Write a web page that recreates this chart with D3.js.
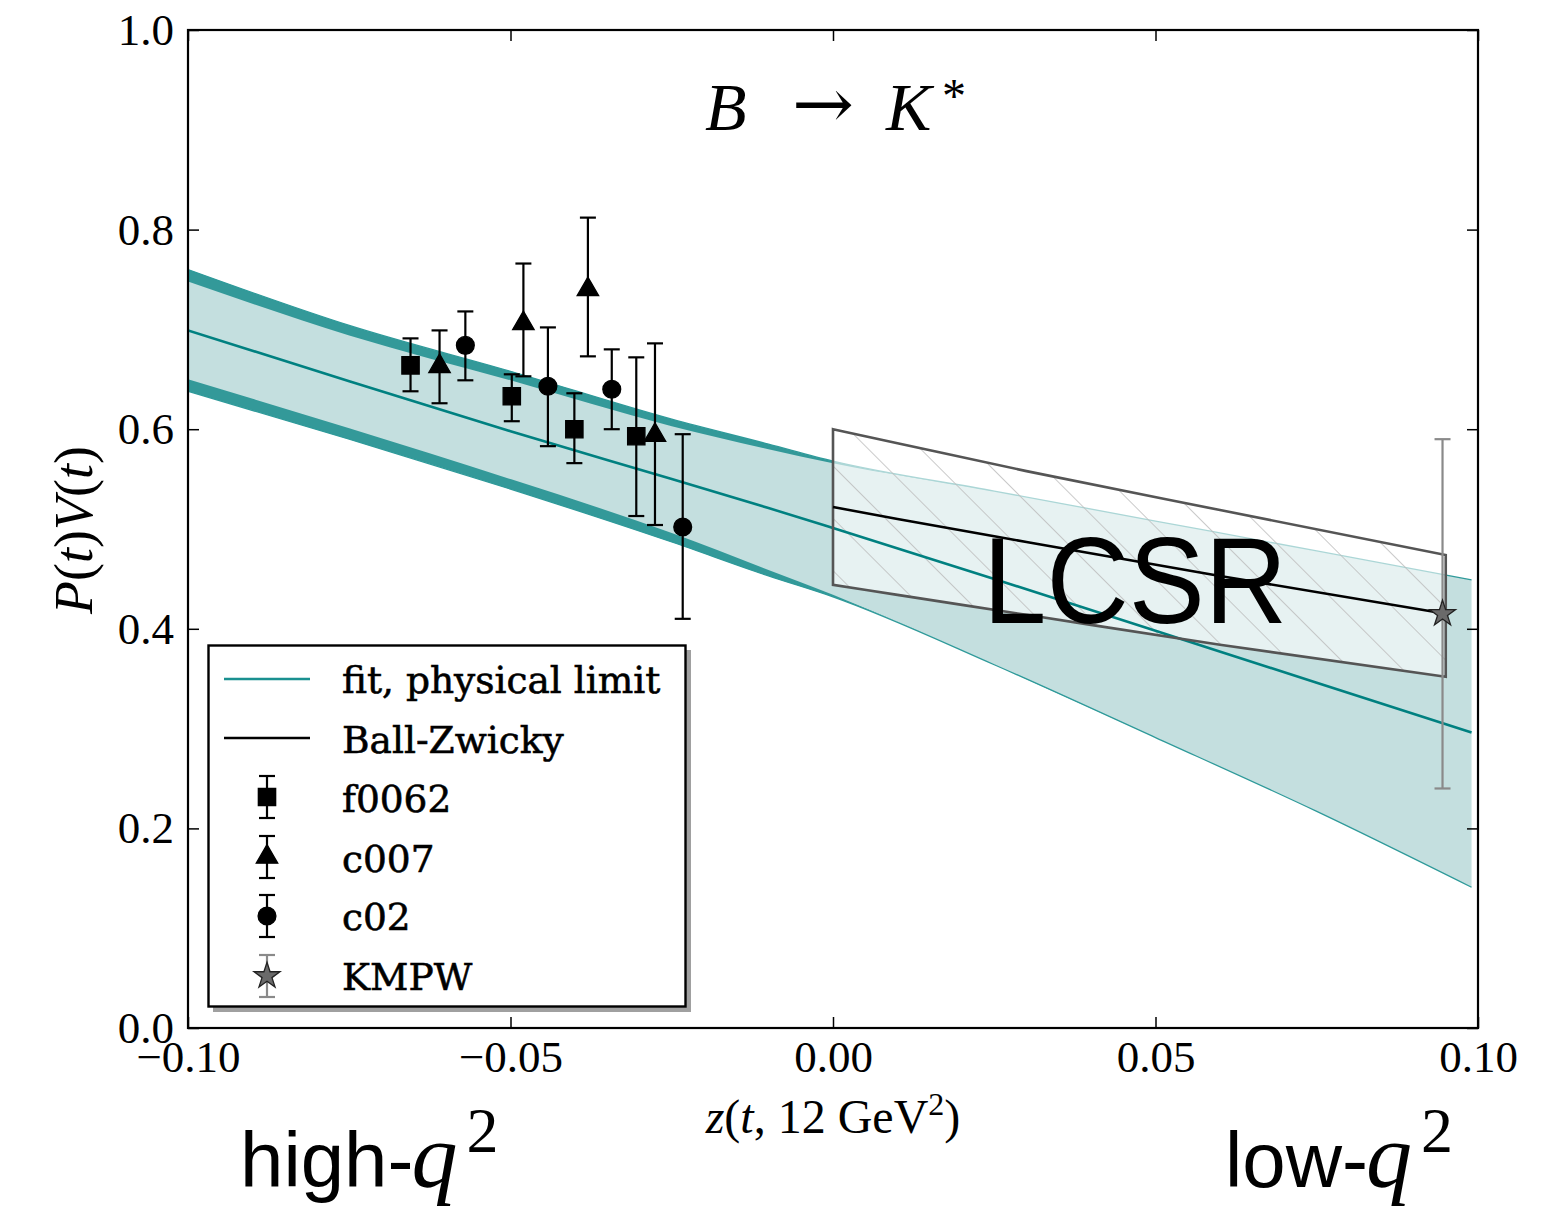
<!DOCTYPE html>
<html><head><meta charset="utf-8">
<script src="https://cdn.jsdelivr.net/npm/d3@7"></script>
<style>body{margin:0;background:#fff}</style>
</head><body>
<svg id="chart" width="1567" height="1208" xmlns="http://www.w3.org/2000/svg"></svg>
<script>
// ---------- data ----------
const xTickValues = [-0.10, -0.05, 0.00, 0.05, 0.10];
const xTickLabels = ["\u22120.10", "\u22120.05", "0.00", "0.05", "0.10"];
const yTickValues = [0.0, 0.2, 0.4, 0.6, 0.8, 1.0];
const yTickLabels = ["0.0", "0.2", "0.4", "0.6", "0.8", "1.0"];

// fit band (physical limit)
const bandZ          = [-0.100, -0.075, -0.050, -0.025, -0.010, 0.000, 0.025, 0.050, 0.075, 0.099];
const bandUpperOuter = [ 0.760,  0.704,  0.658,  0.610,  0.585, 0.568, 0.538, 0.508, 0.478, 0.449];
const bandUpperInner = [ 0.748,  0.694,  0.649,  0.603,  0.580, 0.566, 0.538, 0.508, 0.478, 0.449];
const bandLowerInner = [ 0.650,  0.601,  0.550,  0.496,  0.459, 0.434, 0.364, 0.291, 0.217, 0.141];
const bandLowerOuter = [ 0.638,  0.590,  0.540,  0.487,  0.453, 0.432, 0.364, 0.291, 0.217, 0.141];
const fitCentral     = [ 0.699,  0.648,  0.598,  0.550,  0.521, 0.501, 0.450, 0.398, 0.346, 0.296];

// Ball-Zwicky LCSR box
const bzZ       = [0.000, 0.010, 0.030, 0.060, 0.095];
const bzUpper   = [0.600, 0.586, 0.558, 0.519, 0.474];
const bzCentral = [0.522, 0.510, 0.487, 0.453, 0.415];
const bzLower   = [0.444, 0.434, 0.414, 0.384, 0.352];

// lattice points
const f0062Z  = [-0.0655, -0.0498, -0.0401, -0.0305];
const f0062V  = [ 0.664,   0.633,   0.600,   0.593];
const f0062Lo = [ 0.638,   0.608,   0.566,   0.513];
const f0062Hi = [ 0.691,   0.655,   0.636,   0.672];

const c007Z  = [-0.0610, -0.0480, -0.0380, -0.0276];
const c007V  = [ 0.663,   0.706,   0.740,   0.594];
const c007Lo = [ 0.626,   0.653,   0.673,   0.504];
const c007Hi = [ 0.699,   0.766,   0.812,   0.686];

const c02Z  = [-0.0570, -0.0442, -0.0343, -0.0233];
const c02V  = [ 0.684,   0.643,   0.640,   0.502];
const c02Lo = [ 0.649,   0.583,   0.600,   0.410];
const c02Hi = [ 0.718,   0.702,   0.680,   0.595];

const kmpwZ  = [0.0945];
const kmpwV  = [0.415];
const kmpwLo = [0.240];
const kmpwHi = [0.590];

const legendLabels = ["fit, physical limit", "Ball-Zwicky", "f0062", "c007", "c02", "KMPW"];

// ---------- drawing ----------
const svg = d3.select("#chart");
const L = 188, R = 1478, T = 30, B = 1028;
const x = d3.scaleLinear().domain([-0.1, 0.1]).range([L, R]);
const y = d3.scaleLinear().domain([0, 1]).range([B, T]);

const defs = svg.append("defs");
defs.append("clipPath").attr("id", "plotclip")
  .append("rect").attr("x", L).attr("y", T).attr("width", R - L).attr("height", B - T);
const pat = defs.append("pattern").attr("id", "hatch").attr("patternUnits", "userSpaceOnUse")
  .attr("width", 37).attr("height", 37).attr("patternTransform", "rotate(-45)");
pat.append("line").attr("x1", 0).attr("y1", 0).attr("x2", 0).attr("y2", 37)
  .attr("stroke", "#bdbdbd").attr("stroke-width", 1.6);

const plot = svg.append("g").attr("clip-path", "url(#plotclip)");

const idx = bandZ.map((d, i) => i);
const bandArea = (top, bot) => d3.area().curve(d3.curveMonotoneX)
  .x(i => x(bandZ[i])).y0(i => y(bot[i])).y1(i => y(top[i]));
const bandLine = arr => d3.line().curve(d3.curveMonotoneX).x(i => x(bandZ[i])).y(i => y(arr[i]));

plot.append("path").attr("d", bandArea(bandUpperOuter, bandLowerOuter)(idx)).attr("fill", "#c4dfdf");
plot.append("path").attr("d", bandArea(bandUpperOuter, bandUpperInner)(idx)).attr("fill", "#339999");
plot.append("path").attr("d", bandArea(bandLowerInner, bandLowerOuter)(idx)).attr("fill", "#339999");
plot.append("path").attr("d", bandLine(bandUpperOuter)(idx)).attr("fill", "none").attr("stroke", "#2f9a9a").attr("stroke-width", 1.3);
plot.append("path").attr("d", bandLine(bandLowerOuter)(idx)).attr("fill", "none").attr("stroke", "#2f9a9a").attr("stroke-width", 1.3);

// LCSR box
const bidx = bzZ.map((d, i) => i);
const boxArea = d3.area().curve(d3.curveMonotoneX)
  .x(i => x(bzZ[i])).y0(i => y(bzLower[i])).y1(i => y(bzUpper[i]));
plot.append("path").attr("d", boxArea(bidx)).attr("fill", "#ffffff").attr("fill-opacity", 0.6);
plot.append("path").attr("d", boxArea(bidx)).attr("fill", "url(#hatch)");

// central fit line
plot.append("path").attr("d", bandLine(fitCentral)(idx)).attr("fill", "none")
  .attr("stroke", "#008080").attr("stroke-width", 2.6);

// box outline
plot.append("path").attr("d", boxArea(bidx) + "Z").attr("fill", "none")
  .attr("stroke", "#555555").attr("stroke-width", 2.6).attr("stroke-linejoin", "miter");
// BZ central line
plot.append("path").attr("d", d3.line().curve(d3.curveMonotoneX).x(i => x(bzZ[i])).y(i => y(bzCentral[i]))(bidx))
  .attr("fill", "none").attr("stroke", "#000").attr("stroke-width", 2.6);

// error-bar series
function drawSeries(g, zs, vs, lo, hi, symType, size, fill, stroke, barColor) {
  zs.forEach((z, i) => {
    const cx = x(z);
    g.append("line").attr("x1", cx).attr("x2", cx).attr("y1", y(lo[i])).attr("y2", y(hi[i]))
      .attr("stroke", barColor).attr("stroke-width", 2.2);
    [lo[i], hi[i]].forEach(v => g.append("line").attr("x1", cx - 8).attr("x2", cx + 8)
      .attr("y1", y(v)).attr("y2", y(v)).attr("stroke", barColor).attr("stroke-width", 2.2));
    g.append("path").attr("d", d3.symbol().type(symType).size(size)())
      .attr("transform", `translate(${cx},${y(vs[i])})`)
      .attr("fill", fill).attr("stroke", stroke).attr("stroke-width", 1.3);
  });
}
drawSeries(plot, f0062Z, f0062V, f0062Lo, f0062Hi, d3.symbolSquare, 300, "#000", "#000", "#000");
drawSeries(plot, c007Z, c007V, c007Lo, c007Hi, d3.symbolTriangle, 200, "#000", "#000", "#000");
drawSeries(plot, c02Z, c02V, c02Lo, c02Hi, d3.symbolCircle, 250, "#000", "#000", "#000");
drawSeries(plot, kmpwZ, kmpwV, kmpwLo, kmpwHi, d3.symbolStar, 210, "#6a6a6a", "#222", "#8a8a8a");

// LCSR label
svg.append("text").attr("x", 983).attr("y", 623).text("LCSR")
  .attr("font-family", "Liberation Sans, Arial, sans-serif").attr("font-size", 122)
  .attr("textLength", 304).attr("lengthAdjust", "spacingAndGlyphs").attr("fill", "#000");

// ---------- axes ----------
const tickFont = "Liberation Serif, Times New Roman, serif";
const gl = svg.append("g").attr("transform", `translate(${L},0)`)
  .call(d3.axisLeft(y).tickValues(yTickValues).tickFormat((d, i) => yTickLabels[i]).tickSize(-11).tickPadding(14));
const gb = svg.append("g").attr("transform", `translate(0,${B})`)
  .call(d3.axisBottom(x).tickValues(xTickValues).tickFormat((d, i) => xTickLabels[i]).tickSize(-11).tickPadding(12));
const gr = svg.append("g").attr("transform", `translate(${R},0)`)
  .call(d3.axisRight(y).tickValues(yTickValues).tickFormat("").tickSize(-11));
const gt = svg.append("g").attr("transform", `translate(0,${T})`)
  .call(d3.axisTop(x).tickValues(xTickValues).tickFormat("").tickSize(-11));
[gl, gb, gr, gt].forEach(g => {
  g.select(".domain").remove();
  g.selectAll(".tick line").attr("stroke", "#000").attr("stroke-width", 1.5);
  g.selectAll("text").attr("font-family", tickFont).attr("font-size", 45).attr("fill", "#000");
});
svg.append("rect").attr("x", L).attr("y", T).attr("width", R - L).attr("height", B - T)
  .attr("fill", "none").attr("stroke", "#000").attr("stroke-width", 2.2);

// axis labels
const xl = svg.append("text").attr("x", 833).attr("y", 1133).attr("text-anchor", "middle")
  .attr("font-family", tickFont).attr("font-size", 48);
xl.append("tspan").attr("font-style", "italic").text("z");
xl.append("tspan").text("(");
xl.append("tspan").attr("font-style", "italic").text("t");
xl.append("tspan").text(", 12 GeV");
xl.append("tspan").attr("font-size", 32).attr("dy", -18).text("2");
xl.append("tspan").attr("dy", 18).text(")");

const yl = svg.append("text").attr("transform", "translate(92,530) rotate(-90)").attr("text-anchor", "middle")
  .attr("font-family", tickFont).attr("font-size", 54);
[["P", 1], ["(", 0], ["t", 1], [")", 0], ["V", 1], ["(", 0], ["t", 1], [")", 0]].forEach(([s, it]) =>
  yl.append("tspan").attr("font-style", it ? "italic" : "normal").text(s));

// title
const title = svg.append("g").attr("font-family", tickFont).attr("fill", "#000");
title.append("text").attr("x", 705).attr("y", 130).attr("font-size", 68).attr("font-style", "italic").text("B");
title.append("text").attr("x", 792).attr("y", 128).attr("font-size", 70).attr("font-family", "DejaVu Serif, serif")
  .attr("textLength", 62).attr("lengthAdjust", "spacingAndGlyphs").text("\u2192");
title.append("text").attr("x", 886).attr("y", 130).attr("font-size", 68).attr("font-style", "italic").text("K");
title.append("text").attr("x", 942).attr("y", 112).attr("font-size", 48).text("*");

// high-q2 / low-q2
function qLabel(x0, word) {
  const g = svg.append("g");
  const t = g.append("text").attr("x", x0).attr("y", 1187).attr("font-family", "Liberation Sans, Arial, sans-serif")
    .attr("font-size", 78).text(word);
  const w = t.node().getComputedTextLength();
  g.append("text").attr("x", x0 + w - 2).attr("y", 1187).attr("font-family", tickFont).attr("font-style", "italic")
    .attr("font-size", 92).text("q");
  g.append("text").attr("x", x0 + w + 53).attr("y", 1152).attr("font-family", tickFont)
    .attr("font-size", 64).text("2");
}
qLabel(240, "high-");
qLabel(1225, "low-");

// ---------- legend ----------
const lg = svg.append("g");
lg.append("rect").attr("x", 213).attr("y", 650).attr("width", 478).attr("height", 362).attr("fill", "#a0a0a0");
lg.append("rect").attr("x", 208.5).attr("y", 645.5).attr("width", 477).attr("height", 361)
  .attr("fill", "#fff").attr("stroke", "#000").attr("stroke-width", 2.4);
const legRows = [679, 738, 797, 857, 916, 976];
const legText = [693, 753, 812, 872, 930, 990];
lg.append("line").attr("x1", 224).attr("x2", 310).attr("y1", legRows[0]).attr("y2", legRows[0])
  .attr("stroke", "#1a9090").attr("stroke-width", 2.4);
lg.append("line").attr("x1", 224).attr("x2", 310).attr("y1", legRows[1]).attr("y2", legRows[1])
  .attr("stroke", "#000").attr("stroke-width", 2.4);
const legSyms = [
  [d3.symbolSquare, 300, "#000", "#000", "#000"],
  [d3.symbolTriangle, 200, "#000", "#000", "#000"],
  [d3.symbolCircle, 250, "#000", "#000", "#000"],
  [d3.symbolStar, 210, "#6a6a6a", "#222", "#8a8a8a"]
];
legSyms.forEach((s, k) => {
  const cy = legRows[k + 2], cx = 267;
  lg.append("line").attr("x1", cx).attr("x2", cx).attr("y1", cy - 21).attr("y2", cy + 21)
    .attr("stroke", s[4]).attr("stroke-width", 2.2);
  [cy - 21, cy + 21].forEach(v => lg.append("line").attr("x1", cx - 8).attr("x2", cx + 8).attr("y1", v).attr("y2", v)
    .attr("stroke", s[4]).attr("stroke-width", 2.2));
  lg.append("path").attr("d", d3.symbol().type(s[0]).size(s[1])()).attr("transform", `translate(${cx},${cy})`)
    .attr("fill", s[2]).attr("stroke", s[3]).attr("stroke-width", 1.3);
});
legendLabels.forEach((t, k) => lg.append("text").attr("x", 342).attr("y", legText[k]).text(t)
  .attr("font-family", "DejaVu Serif, serif").attr("font-size", 37.5).attr("fill", "#000")
  .attr("stroke", "#000").attr("stroke-width", 0.6));
</script>
</body></html>
